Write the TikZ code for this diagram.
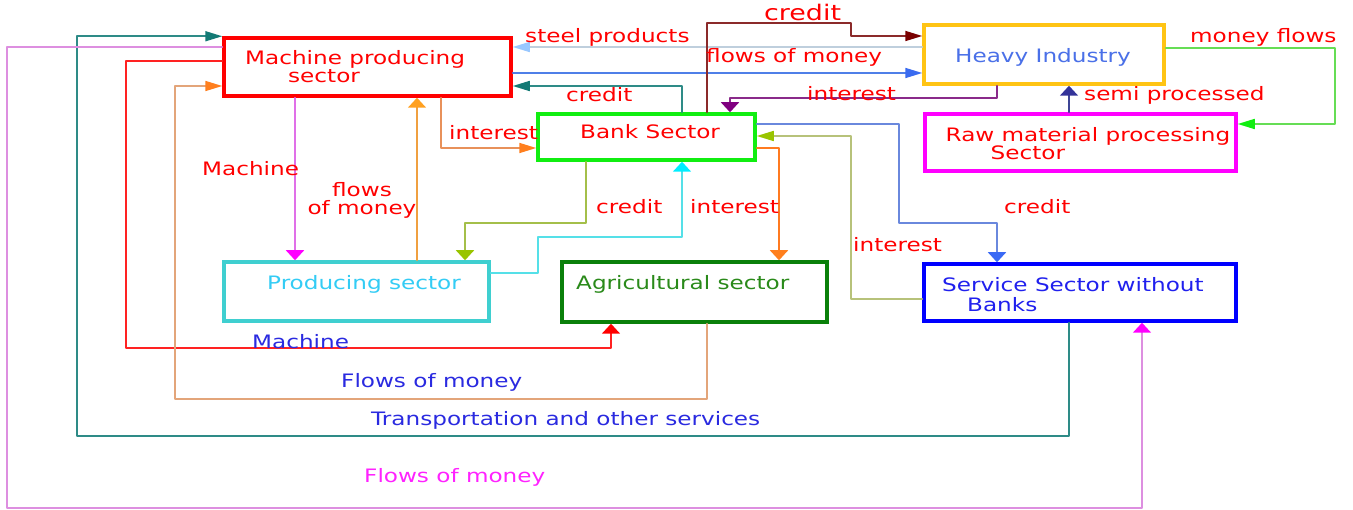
\documentclass[tikz,border=0pt]{standalone}
\usepackage{fontspec}
\usepackage{tikz}
\usetikzlibrary{arrows.meta}
\newfontfamily\diagfont{DejaVu Sans}[FakeStretch=1.25]
\definecolor{mpred}{HTML}{FF0000}
\definecolor{hiyellow}{HTML}{FFC414}
\definecolor{rmmagenta}{HTML}{FF00FF}
\definecolor{bsgreen}{HTML}{11EE11}
\definecolor{psturq}{HTML}{3FCFD0}
\definecolor{aggreen}{HTML}{0A800A}
\definecolor{ssblue}{HTML}{0000FF}
\definecolor{hitext}{HTML}{4A70E8}
\definecolor{pstext}{HTML}{33CCF5}
\definecolor{agtext}{HTML}{2A8A1A}
\definecolor{sstext}{HTML}{2020EE}
\definecolor{lblblue}{HTML}{2A2AE0}
\definecolor{lblmag}{HTML}{FF22FF}
\definecolor{tealln}{HTML}{2E8B87}
\definecolor{tealhd}{HTML}{137A75}
\definecolor{orchidln}{HTML}{DD8FE0}
\definecolor{orchidln2}{HTML}{E070E8}
\definecolor{magtip}{HTML}{FF00FF}
\definecolor{redln}{HTML}{FF2222}
\definecolor{tanln}{HTML}{E3A57A}
\definecolor{orangehd}{HTML}{FF7F1E}
\definecolor{orangeln}{HTML}{F0A040}
\definecolor{orangehd2}{HTML}{FFA020}
\definecolor{peachln}{HTML}{E8915A}
\definecolor{steelln}{HTML}{BFCFDD}
\definecolor{skyhd}{HTML}{99C8FF}
\definecolor{royalln}{HTML}{4F7FE8}
\definecolor{royalhd}{HTML}{3A6BF0}
\definecolor{maroonln}{HTML}{8B2A2A}
\definecolor{maroonhd}{HTML}{7A0000}
\definecolor{purpleln}{HTML}{8A2A8A}
\definecolor{purplehd}{HTML}{800080}
\definecolor{slateln}{HTML}{3E4595}
\definecolor{slatehd}{HTML}{333399}
\definecolor{greenln}{HTML}{66DD55}
\definecolor{greenhd}{HTML}{11EE11}
\definecolor{cornln}{HTML}{6A88DD}
\definecolor{cornhd}{HTML}{3A6AF5}
\definecolor{oliveln}{HTML}{B7C27A}
\definecolor{oliveln2}{HTML}{A4BF4A}
\definecolor{limehd}{HTML}{99C400}
\definecolor{orangeln2}{HTML}{FF7A20}
\definecolor{cyanln}{HTML}{55E0E8}
\definecolor{cyanhd}{HTML}{00EEFF}
\begin{document}
\begin{tikzpicture}[line cap=round,line join=round,x=1pt,y=-1pt,
  font=\diagfont\fontsize{18.5}{18}\selectfont,
  sector/.style={draw=#1,line width=3.5pt,line join=miter,inner sep=0pt},
  lbl/.style={anchor=west,inner sep=0pt,text height=14pt,text depth=4pt,text=#1},
  lbl/.default=red,
  blocktxt/.style={anchor=west,align=left,inner sep=0pt,text=#1},
  hlink/.style={line width=1.7pt,-{Triangle[length=17pt,width=10pt,color=#1]}},
  vlink/.style={line width=1.7pt,-{Triangle[length=10pt,width=18pt,color=#1]}}]
\clip (0,0) rectangle (1353,510);
\fill[white] (0,0) rectangle (1353,510);
\node[sector=mpred,minimum width=287,minimum height=58] (mps) at (367.5,67) {};
\node[sector=hiyellow,minimum width=240,minimum height=59] (hi) at (1044,54.5) {};
\node[sector=rmmagenta,minimum width=311,minimum height=57] (rm) at (1080.5,142.5) {};
\node[sector=bsgreen,minimum width=217,minimum height=46] (bs) at (646.5,137) {};
\node[sector=psturq,minimum width=265,minimum height=59] (ps) at (356.5,291.5) {};
\node[sector=aggreen,minimum width=265,minimum height=60] (ag) at (694.5,292) {};
\node[sector=ssblue,minimum width=312,minimum height=57] (ss) at (1080,292.5) {};
\node[blocktxt=red] (mpstxt) at (245,67) {Machine producing\\\hspace*{43pt}sector};
\node[lbl=hitext] (hitxt) at (955,58) {Heavy Industry};
\node[blocktxt=red] (rmtxt) at (945.5,144) {Raw material processing\\\hspace*{45pt}Sector};
\node[lbl] (bstxt) at (580,134) {Bank Sector};
\node[lbl=pstext] (pstxt) at (267,285) {Producing sector};
\node[lbl=agtext] (agtxt) at (576,285) {Agricultural sector};
\node[blocktxt=sstext] (sstxt) at (942,295) {Service Sector without\\[2pt]\hspace*{25pt}Banks};
\draw[hlink=tealhd,draw=tealln] (ss.south -| 1069,0) |- (77,436) |- (mps.north west);
\draw[vlink=magtip,draw=orchidln] (mps.west |- 0,47) -| (7,508) -| (ss.south -| 1142,0);
\draw[vlink=red,draw=redln] (mps.west |- 0,61) -| (126,348) -| (ag.south -| 611,0);
\draw[hlink=orangehd,draw=tanln] (ag.south -| 707,0) |- (175,399) |- (mps.west |- 0,86);
\draw[vlink=orangehd2,draw=orangeln] (ps.north -| 417,0) -- (mps.south -| 417,0);
\draw[vlink=magtip,draw=orchidln2] (mps.south -| 295,0) -- (ps.north -| 295,0);
\draw[hlink=orangehd,draw=peachln] (mps.south -| 441,0) |- (bs.west |- 0,148);
\draw[hlink=tealhd,draw=tealln] (bs.north -| 682,0) |- (mps.east |- 0,86);
\draw[hlink=skyhd,draw=steelln] (hi.west |- 0,47) -- (mps.east |- 0,47);
\draw[hlink=royalhd,draw=royalln] (mps.east |- 0,73) -- (hi.west |- 0,73);
\draw[hlink=maroonhd,draw=maroonln] (bs.north -| 707,0) |- (851,23) |- (hi.west |- 0,36);
\draw[vlink=purplehd,draw=purpleln] (hi.south -| 997,0) |- (730,98) -- (bs.north -| 730,0);
\draw[vlink=slatehd,draw=slateln] (rm.north -| 1069,0) -- (hi.south -| 1069,0);
\draw[hlink=greenhd,draw=greenln] (hi.east |- 0,48) -| (1335,124) -- (rm.east |- 0,124);
\draw[vlink=cornhd,draw=cornln] (bs.east |- 0,124) -| (899,223) -| (ss.north -| 997,0);
\draw[hlink=limehd,draw=oliveln] (ss.west |- 0,299) -| (851,136) -- (bs.east |- 0,136);
\draw[vlink=orangehd,draw=orangeln2] (bs.east |- 0,148) -| (ag.north -| 779,0);
\draw[vlink=limehd,draw=oliveln2] (bs.south -| 586,0) |- (465,223) -- (ps.north -| 465,0);
\draw[vlink=cyanhd,draw=cyanln] (ps.east |- 0,273) -| (538,237) -| (bs.south -| 682,0);
\node[lbl] (steel) at (525,38) {steel products};
\node[lbl] (fomhi) at (706,58) {flows of money};
\node[lbl,font=\diagfont\fontsize{21.5}{22}\selectfont] (credhi) at (764,16) {credit};
\node[lbl] (mflows) at (1190,38) {money flows};
\node[lbl] (credmps) at (566,97) {credit};
\node[lbl] (intbs) at (807,96) {interest};
\node[lbl] (semi) at (1084,96) {semi processed};
\node[lbl] (intmps) at (449,135) {interest};
\node[lbl] (machps) at (202,171) {Machine};
\node[align=center,text=red,inner sep=0pt] (fomps) at (362,200) {flows\\of money};
\node[lbl] (credps) at (596,209) {credit};
\node[lbl] (intps) at (690,209) {interest};
\node[lbl] (credss) at (1004,209) {credit};
\node[lbl] (intss) at (853,247) {interest};
\node[lbl=lblblue] (machag) at (252,344) {Machine};
\node[lbl=lblblue] (fomag) at (341,383) {Flows of money};
\node[lbl=lblblue] (trans) at (371,421) {Transportation and other services};
\node[lbl=lblmag] (fomss) at (364,478) {Flows of money};
\end{tikzpicture}
\end{document}
